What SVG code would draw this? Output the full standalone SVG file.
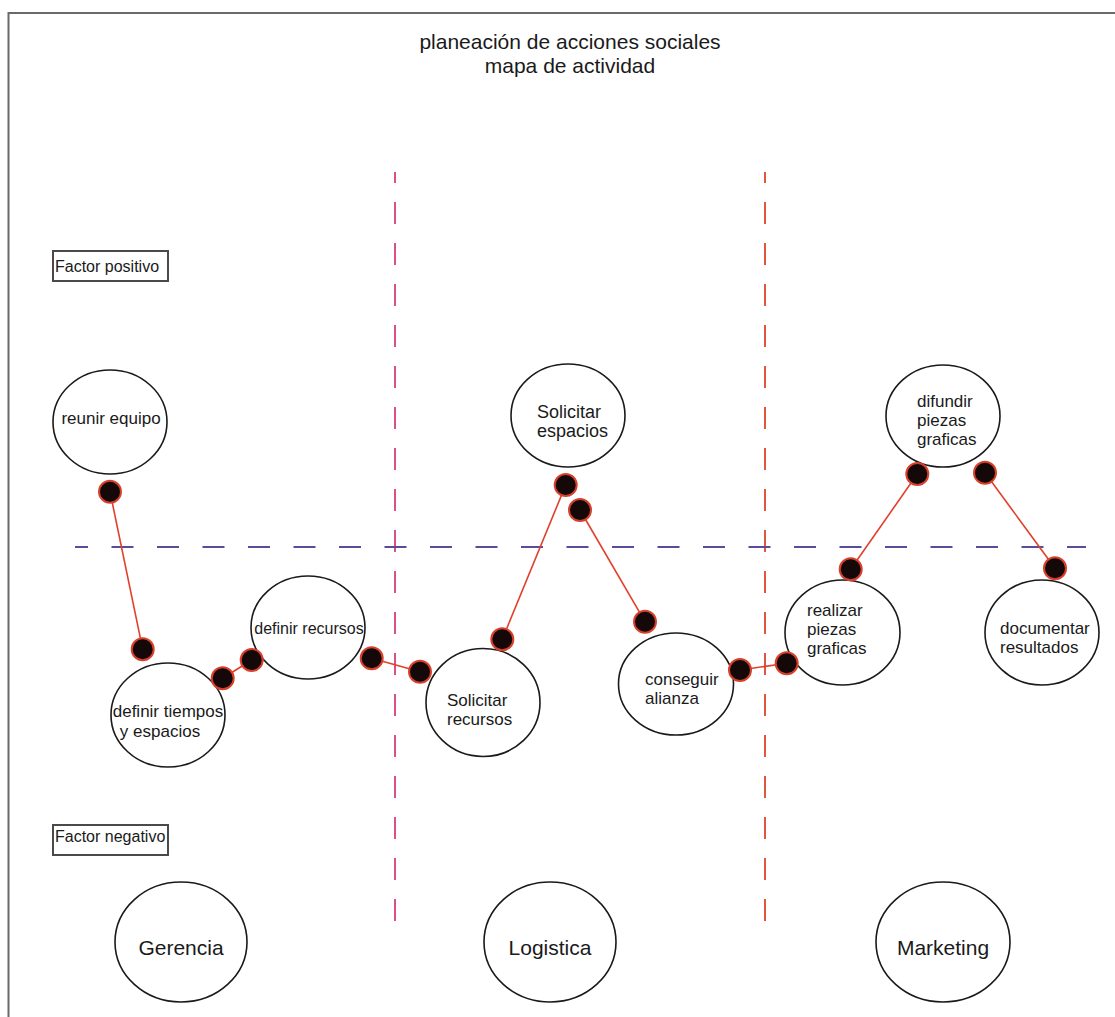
<svg xmlns="http://www.w3.org/2000/svg" width="1115" height="1017" viewBox="0 0 1115 1017">
  <style>
    .node { fill: #ffffff; stroke: #1a1a1a; stroke-width: 1.6; }
    .lbl { font-family: "Liberation Sans", Arial, sans-serif; fill: #1a1a1a; }
    .n17 { font-size: 17px; }
    .n18 { font-size: 18px; }
    .n16 { font-size: 16px; }
    .big { font-size: 21px; text-anchor: middle; }
    .mid { text-anchor: middle; }
    .conn { stroke: #e0402a; stroke-width: 1.6; fill: none; }
    .dot { fill: #140808; stroke: #d8402c; stroke-width: 2; }
    .factor { fill: #ffffff; stroke: #4a4a4a; stroke-width: 2; }
    .ftxt { font-size: 16px; }
  </style>
  <rect x="0" y="0" width="1115" height="1017" fill="#ffffff"/>
  <!-- outer frame -->
  <path d="M8.5 1017 V13 H1115" fill="none" stroke="#6a6a6a" stroke-width="2"/>

  <!-- title -->
  <g id="title">
    <text class="lbl big" x="570" y="49">planeación de acciones sociales</text>
    <text class="lbl big" x="570" y="73">mapa de actividad</text>
  </g>

  <!-- guides -->
  <g id="guides">
    <line x1="395" y1="172" x2="395" y2="923" stroke="#d9508a" stroke-width="2" stroke-dasharray="22 19" stroke-dashoffset="11"/>
    <line x1="765" y1="172" x2="765" y2="923" stroke="#e0563f" stroke-width="2" stroke-dasharray="22 19" stroke-dashoffset="11"/>
    <line x1="75" y1="547" x2="1086" y2="547" stroke="#5a4b9b" stroke-width="2" stroke-dasharray="22 23.5" stroke-dashoffset="9"/>
  </g>

  <!-- factor labels -->
  <g id="factor-positivo">
    <rect class="factor" x="53" y="251" width="115" height="30"/>
    <text class="lbl ftxt" x="55" y="272">Factor positivo</text>
  </g>
  <g id="factor-negativo">
    <rect class="factor" x="53" y="825" width="115" height="30"/>
    <text class="lbl ftxt" x="55" y="842">Factor negativo</text>
  </g>

  <!-- activity nodes -->
  <g id="reunir-equipo">
    <ellipse class="node" cx="110" cy="422" rx="57" ry="52"/>
    <text class="lbl n17 mid" x="111" y="424">reunir equipo</text>
  </g>
  <g id="definir-tiempos">
    <ellipse class="node" cx="168" cy="715" rx="57" ry="52"/>
    <text class="lbl n17 mid" x="168" y="717">definir tiempos</text>
    <text class="lbl n17 mid" x="160" y="737">y espacios</text>
  </g>
  <g id="definir-recursos">
    <ellipse class="node" cx="308" cy="627.5" rx="57" ry="51.5"/>
    <text class="lbl n16 mid" x="309" y="634">definir recursos</text>
  </g>
  <g id="solicitar-recursos">
    <ellipse class="node" cx="483" cy="702.5" rx="57" ry="54"/>
    <text class="lbl n17" x="447" y="706">Solicitar</text>
    <text class="lbl n17" x="447" y="725">recursos</text>
  </g>
  <g id="solicitar-espacios">
    <ellipse class="node" cx="568" cy="415.5" rx="57" ry="51.5"/>
    <text class="lbl n18" x="537" y="418">Solicitar</text>
    <text class="lbl n18" x="537" y="437">espacios</text>
  </g>
  <g id="conseguir-alianza">
    <ellipse class="node" cx="676" cy="684" rx="57.5" ry="51"/>
    <text class="lbl n17" x="645" y="685">conseguir</text>
    <text class="lbl n17" x="645" y="704">alianza</text>
  </g>
  <g id="realizar-piezas">
    <ellipse class="node" cx="842.5" cy="632.5" rx="57.5" ry="52.5"/>
    <text class="lbl n17" x="807" y="616">realizar</text>
    <text class="lbl n17" x="807" y="635">piezas</text>
    <text class="lbl n17" x="807" y="654">graficas</text>
  </g>
  <g id="difundir-piezas">
    <ellipse class="node" cx="943" cy="416" rx="57" ry="51"/>
    <text class="lbl n17" x="917" y="407">difundir</text>
    <text class="lbl n17" x="917" y="426">piezas</text>
    <text class="lbl n17" x="917" y="445">graficas</text>
  </g>
  <g id="documentar-resultados">
    <ellipse class="node" cx="1042" cy="632.5" rx="57" ry="52.5"/>
    <text class="lbl n17" x="1000" y="634">documentar</text>
    <text class="lbl n17" x="1000" y="653">resultados</text>
  </g>

  <!-- area nodes -->
  <g id="gerencia">
    <ellipse class="node" cx="181" cy="942" rx="66" ry="60"/>
    <text class="lbl big" x="181" y="955">Gerencia</text>
  </g>
  <g id="logistica">
    <ellipse class="node" cx="550" cy="942" rx="66" ry="60"/>
    <text class="lbl big" x="550" y="955">Logistica</text>
  </g>
  <g id="marketing">
    <ellipse class="node" cx="943" cy="942" rx="67" ry="60"/>
    <text class="lbl big" x="943" y="955">Marketing</text>
  </g>

  <!-- connectors -->
  <g id="connectors">
    <line class="conn" x1="110" y1="491.7" x2="142.7" y2="649.3"/>
    <line class="conn" x1="222.7" y1="678.3" x2="251.7" y2="660"/>
    <line class="conn" x1="371.7" y1="658.3" x2="420" y2="671.7"/>
    <line class="conn" x1="502.3" y1="639.3" x2="565.7" y2="485"/>
    <line class="conn" x1="580" y1="510" x2="645" y2="621.7"/>
    <line class="conn" x1="740" y1="670" x2="786.7" y2="663.3"/>
    <line class="conn" x1="850.7" y1="569.3" x2="917.3" y2="474"/>
    <line class="conn" x1="985" y1="472.7" x2="1055" y2="568.3"/>
    <circle class="dot" cx="110" cy="491.7" r="11"/>
    <circle class="dot" cx="142.7" cy="649.3" r="11"/>
    <circle class="dot" cx="222.7" cy="678.3" r="11"/>
    <circle class="dot" cx="251.7" cy="660" r="11"/>
    <circle class="dot" cx="371.7" cy="658.3" r="11"/>
    <circle class="dot" cx="420" cy="671.7" r="11"/>
    <circle class="dot" cx="502.3" cy="639.3" r="11"/>
    <circle class="dot" cx="565.7" cy="485" r="11"/>
    <circle class="dot" cx="580" cy="510" r="11"/>
    <circle class="dot" cx="645" cy="621.7" r="11"/>
    <circle class="dot" cx="740" cy="670" r="11"/>
    <circle class="dot" cx="786.7" cy="663.3" r="11"/>
    <circle class="dot" cx="850.7" cy="569.3" r="11"/>
    <circle class="dot" cx="917.3" cy="474" r="11"/>
    <circle class="dot" cx="985" cy="472.7" r="11"/>
    <circle class="dot" cx="1055" cy="568.3" r="11"/>
  </g>
</svg>
